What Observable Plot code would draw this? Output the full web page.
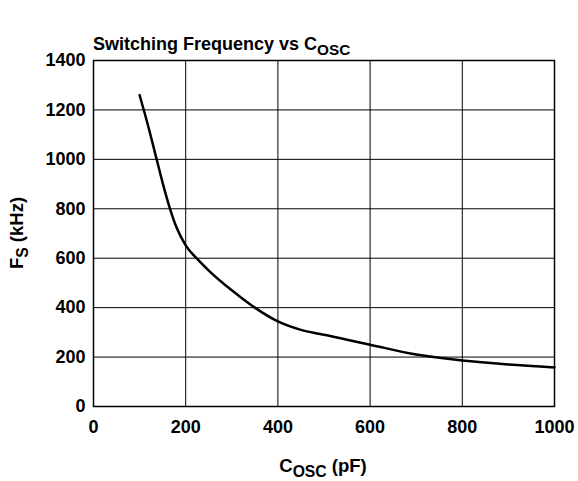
<!DOCTYPE html>
<html>
<head>
<meta charset="utf-8">
<script src="https://cdn.jsdelivr.net/npm/d3@7"></script>
<script src="https://cdn.jsdelivr.net/npm/@observablehq/plot@0.6"></script>
<style>
  html, body { margin: 0; padding: 0; background: #fff; }
  #wrap { position: relative; width: 578px; height: 481px; font-family: "Liberation Sans", Arial, sans-serif; font-weight: bold; color: #000; }
  .lbl { position: absolute; white-space: nowrap; line-height: 1; }
  .sub { font-size: 0.85em; position: relative; top: 0.3em; }
</style>
</head>
<body>
<div id="wrap">
  <div class="lbl" id="title" style="left:93px; top:35px; font-size:18px;">Switching Frequency vs C<span class="sub">OSC</span></div>
  <div class="lbl" id="xlab" style="left:0; width:646px; text-align:center; top:457px; font-size:18.5px;">C<span class="sub">OSC</span> (pF)</div>
  <div class="lbl" id="ylab" style="left:17px; top:233px; font-size:18.5px; transform: translate(-50%,-50%) rotate(-90deg);">F<span class="sub">S</span> (kHz)</div>
</div>
<script>
const cosc = [100, 120, 137, 150, 166, 180, 200, 225, 250, 300, 322, 350, 400, 450, 480, 500, 550, 600, 700, 800, 900, 1000];
const fs   = [1260, 1125, 1000, 905, 800, 725, 652, 597, 550, 470, 438, 400, 344, 310, 297, 290, 270, 250, 210, 186, 170, 158];
const xTicks = [0, 200, 400, 600, 800, 1000];
const yTicks = [0, 200, 400, 600, 800, 1000, 1200, 1400];

const data = cosc.map((c, i) => ({c, f: fs[i]}));

const chart = Plot.plot({
  width: 578,
  height: 481,
  marginLeft: 93,
  marginRight: 24,
  marginTop: 60,
  marginBottom: 75,
  style: { fontFamily: '"Liberation Sans", Arial, sans-serif', fontWeight: "bold", fontSize: "18px", color: "#000", background: "transparent" },
  x: { domain: [0, 1000], ticks: xTicks, label: null, tickSize: 0, tickPadding: 14, tickFormat: d => String(d) },
  y: { domain: [0, 1400], ticks: yTicks, label: null, tickSize: 0, tickPadding: 8, tickFormat: d => String(d) },
  marks: [
    Plot.gridX(xTicks, { stroke: "#000", strokeOpacity: 1, strokeWidth: 1 }),
    Plot.gridY(yTicks, { stroke: "#000", strokeOpacity: 1, strokeWidth: 1 }),
    Plot.frame({ stroke: "#000", strokeWidth: 1.5 }),
    Plot.line(data, { x: "c", y: "f", curve: "monotone-x", stroke: "#000", strokeWidth: 2.5 })
  ]
});
chart.style.position = "absolute";
chart.style.left = "0";
chart.style.top = "0";
document.getElementById("wrap").appendChild(chart);
</script>
</body>
</html>
